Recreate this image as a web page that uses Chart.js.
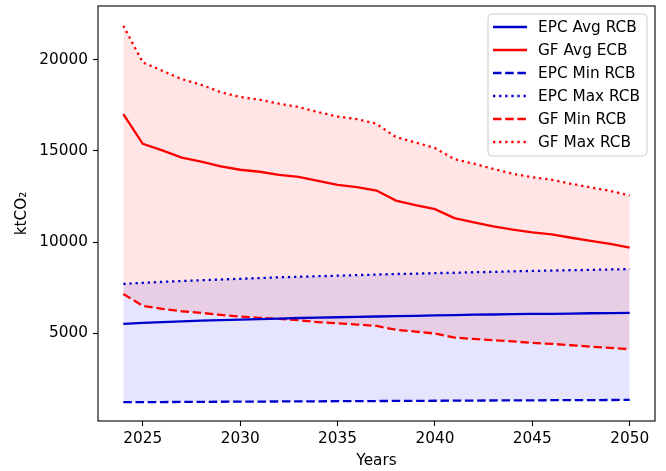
<!DOCTYPE html>
<html>
<head>
<meta charset="utf-8">
<script src="https://cdn.jsdelivr.net/npm/chart.js@4/dist/chart.umd.min.js"></script>
<style>
  html, body { margin: 0; padding: 0; background: #ffffff; }
  #wrap { width: 666px; height: 471px; }
</style>
</head>
<body>
<div id="wrap"><canvas id="c" width="666" height="471"></canvas></div>
<script>
// Remaining carbon budgets, ktCO2 per year
const years = [2024, 2025, 2026, 2027, 2028, 2029, 2030, 2031, 2032, 2033, 2034, 2035, 2036, 2037,
               2038, 2039, 2040, 2041, 2042, 2043, 2044, 2045, 2046, 2047, 2048, 2049, 2050];

const epcAvg = [5520, 5570, 5610, 5650, 5690, 5720, 5750, 5780, 5810, 5840, 5860, 5880, 5900, 5920,
                5940, 5960, 5980, 6000, 6020, 6030, 6050, 6060, 6070, 6080, 6100, 6110, 6120];
const gfAvg = [17020, 15390, 15030, 14640, 14420, 14150, 13970, 13860, 13690, 13580, 13360, 13140, 13020, 12830,
               12280, 12030, 11810, 11320, 11080, 10860, 10680, 10530, 10420, 10240, 10070, 9900, 9700];
const epcMin = [1220, 1225, 1230, 1236, 1240, 1246, 1250, 1255, 1261, 1265, 1270, 1276, 1280, 1285,
                1290, 1295, 1300, 1305, 1310, 1315, 1320, 1325, 1330, 1334, 1338, 1342, 1345];
const epcMax = [7710, 7770, 7820, 7870, 7910, 7950, 7990, 8030, 8070, 8100, 8130, 8160, 8190, 8220,
                8250, 8270, 8300, 8320, 8350, 8370, 8400, 8420, 8440, 8460, 8480, 8500, 8520];
const gfMin = [7160, 6500, 6340, 6210, 6120, 6010, 5920, 5845, 5790, 5720, 5610, 5550, 5480, 5405,
               5190, 5095, 4985, 4765, 4690, 4620, 4555, 4470, 4420, 4345, 4270, 4200, 4125];
const gfMax = [21870, 19855, 19400, 18940, 18630, 18230, 17960, 17810, 17590, 17410, 17130, 16890, 16750, 16490,
               15760, 15470, 15160, 14550, 14300, 14020, 13750, 13560, 13420, 13200, 13000, 12810, 12560];

const xTicks = [2025, 2030, 2035, 2040, 2045, 2050];
const yTicks = [5000, 10000, 15000, 20000];

const BLUE = '#0000cd';
const RED = '#ff0000';
const FONT = 'DejaVu Sans';
const FONT_PX = 15.3;
const LW = 2.3;
const DASHED = [8.5, 3.7];
const DOTTED = [2.3, 3.8];

const pts = arr => years.map((y, i) => ({ x: y, y: arr[i] }));

function series(label, values, color, dash, fill, fillColor, order) {
  return {
    label,
    data: pts(values),
    borderColor: color,
    borderWidth: LW,
    borderDash: dash,
    borderCapStyle: 'butt',
    pointRadius: 0,
    tension: 0,
    fill: fill,
    backgroundColor: fillColor || 'transparent',
    order: order || 0
  };
}

// The blue band sits underneath the red band
const datasets = [
  series('EPC Avg RCB', epcAvg, BLUE, [], false),
  series('GF Avg ECB', gfAvg, RED, [], false),
  series('EPC Min RCB', epcMin, BLUE, DASHED, false),
  series('EPC Max RCB', epcMax, BLUE, DOTTED, 2, 'rgba(0,0,255,0.1)', 10),
  series('GF Min RCB', gfMin, RED, DASHED, false),
  series('GF Max RCB', gfMax, RED, DOTTED, 4, 'rgba(255,0,0,0.1)')
];

// Black frame around the plot area and a boxed legend in the top-right corner
const framePlugin = {
  id: 'frame',
  afterDatasetsDraw(chart) {
    const { ctx, chartArea: a } = chart;
    ctx.save();
    ctx.strokeStyle = '#000000';
    ctx.lineWidth = 1.1;
    ctx.strokeRect(a.left, a.top, a.right - a.left, a.bottom - a.top);
    ctx.restore();
  }
};

const legendPlugin = {
  id: 'boxLegend',
  afterDraw(chart) {
    const { ctx } = chart;
    const x0 = 488, y0 = 14, w = 159, h = 142, r = 4;
    ctx.save();
    ctx.beginPath();
    ctx.moveTo(x0 + r, y0);
    ctx.arcTo(x0 + w, y0, x0 + w, y0 + h, r);
    ctx.arcTo(x0 + w, y0 + h, x0, y0 + h, r);
    ctx.arcTo(x0, y0 + h, x0, y0, r);
    ctx.arcTo(x0, y0, x0 + w, y0, r);
    ctx.closePath();
    ctx.fillStyle = 'rgba(255,255,255,0.8)';
    ctx.fill();
    ctx.strokeStyle = '#cccccc';
    ctx.lineWidth = 1;
    ctx.stroke();
    ctx.font = FONT_PX + 'px "' + FONT + '"';
    ctx.textBaseline = 'middle';
    ctx.fillStyle = '#000000';
    chart.data.datasets.forEach((ds, i) => {
      const cy = 27 + i * 23;
      ctx.beginPath();
      ctx.strokeStyle = ds.borderColor;
      ctx.lineWidth = ds.borderWidth;
      ctx.lineCap = 'butt';
      ctx.setLineDash(ds.borderDash || []);
      ctx.moveTo(493, cy);
      ctx.lineTo(527, cy);
      ctx.stroke();
      ctx.setLineDash([]);
      ctx.fillText(ds.label, 538, cy + 1);
    });
    ctx.restore();
  }
};

const tickFont = { family: FONT, size: FONT_PX };

new Chart(document.getElementById('c'), {
  type: 'line',
  data: { datasets },
  plugins: [framePlugin, legendPlugin],
  options: {
    responsive: false,
    animation: false,
    layout: { padding: { top: 6, right: 11, left: 0, bottom: 0 } },
    plugins: {
      legend: { display: false },
      tooltip: { enabled: false },
      filler: { propagate: false, drawTime: 'beforeDatasetsDraw' }
    },
    scales: {
      x: {
        type: 'linear',
        min: 2022.7,
        max: 2051.3,
        afterBuildTicks: s => { s.ticks = xTicks.map(v => ({ value: v })); },
        afterFit: s => { s.height = 50; s.paddingLeft = 0; s.paddingRight = 0; },
        ticks: { font: tickFont, color: '#000000', padding: 4, callback: v => String(v) },
        grid: { drawOnChartArea: false, drawTicks: true, tickLength: 5, color: '#000000', tickWidth: 1.1 },
        border: { display: false },
        title: { display: true, text: 'Years', font: tickFont, color: '#000000', padding: { top: 1, bottom: 1 } }
      },
      y: {
        type: 'linear',
        min: 190,
        max: 22950,
        afterBuildTicks: s => { s.ticks = yTicks.map(v => ({ value: v })); },
        afterFit: s => { s.width = 98; s.paddingTop = 0; s.paddingBottom = 0; },
        ticks: { font: tickFont, color: '#000000', padding: 5, callback: v => String(v) },
        grid: { drawOnChartArea: false, drawTicks: true, tickLength: 5, color: '#000000', tickWidth: 1.1 },
        border: { display: false },
        title: { display: true, text: 'ktCO₂', font: tickFont, color: '#000000', padding: { top: 13, bottom: 13 } }
      }
    }
  }
});
</script>
</body>
</html>
